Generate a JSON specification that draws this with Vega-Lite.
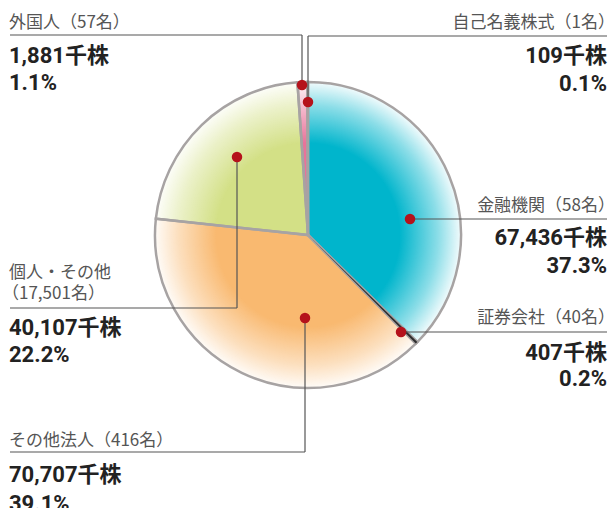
{
  "$schema": "https://vega.github.io/schema/vega-lite/v6.json",
  "width": 610,
  "height": 508,
  "autosize": {"type": "none"},
  "padding": 0,
  "background": "white",
  "config": {"view": {"stroke": null}},
  "datasets": {
    "slices": [
      {"name": "金融機関", "shares": 67436, "pct": 37.3, "holders": 58, "order": 1},
      {"name": "証券会社", "shares": 407, "pct": 0.2, "holders": 40, "order": 2},
      {"name": "その他法人", "shares": 70707, "pct": 39.1, "holders": 416, "order": 3},
      {"name": "個人・その他", "shares": 40107, "pct": 22.2, "holders": 17501, "order": 4},
      {"name": "外国人", "shares": 1881, "pct": 1.1, "holders": 57, "order": 5},
      {"name": "自己名義株式", "shares": 109, "pct": 0.1, "holders": 1, "order": 6}
    ],
    "dots": [
      {"name": "外国人", "x": 302, "y": 85},
      {"name": "自己名義株式", "x": 308, "y": 102},
      {"name": "個人・その他", "x": 237, "y": 157},
      {"name": "金融機関", "x": 410, "y": 219},
      {"name": "証券会社", "x": 401, "y": 332},
      {"name": "その他法人", "x": 305, "y": 318}
    ],
    "segments": [
      {"name": "外国人", "x": 10, "y": 35, "x2": 302, "y2": 35},
      {"name": "外国人", "x": 302, "y": 35, "x2": 302, "y2": 85},
      {"name": "自己名義株式", "x": 308, "y": 36, "x2": 607, "y2": 36},
      {"name": "自己名義株式", "x": 308, "y": 36, "x2": 308, "y2": 102},
      {"name": "金融機関", "x": 410, "y": 219, "x2": 607, "y2": 219},
      {"name": "証券会社", "x": 401, "y": 332, "x2": 607, "y2": 332},
      {"name": "個人・その他", "x": 237, "y": 157, "x2": 237, "y2": 308},
      {"name": "個人・その他", "x": 10, "y": 308, "x2": 237, "y2": 308},
      {"name": "その他法人", "x": 305, "y": 318, "x2": 305, "y2": 452},
      {"name": "その他法人", "x": 10, "y": 452, "x2": 305, "y2": 452}
    ],
    "labels": [
      {"t": "外国人（57名）", "x": 9, "y": 27.5, "side": "L", "kind": "name"},
      {"t": "自己名義株式（1名）", "x": 615, "y": 27.5, "side": "R", "kind": "name"},
      {"t": "金融機関（58名）", "x": 615, "y": 210.5, "side": "R", "kind": "name"},
      {"t": "証券会社（40名）", "x": 615, "y": 323, "side": "R", "kind": "name"},
      {"t": "個人・その他", "x": 9, "y": 278, "side": "L", "kind": "name"},
      {"t": "（17,501名）", "x": 2, "y": 298.5, "side": "L", "kind": "name"},
      {"t": "その他法人（416名）", "x": 9, "y": 446, "side": "L", "kind": "name"},
      {"t": "1,881千株", "x": 9, "y": 63, "side": "L", "kind": "value"},
      {"t": "1.1%", "x": 9, "y": 90, "side": "L", "kind": "value"},
      {"t": "109千株", "x": 607, "y": 63, "side": "R", "kind": "value"},
      {"t": "0.1%", "x": 607, "y": 91, "side": "R", "kind": "value"},
      {"t": "67,436千株", "x": 607, "y": 245, "side": "R", "kind": "value"},
      {"t": "37.3%", "x": 607, "y": 273, "side": "R", "kind": "value"},
      {"t": "407千株", "x": 607, "y": 360, "side": "R", "kind": "value"},
      {"t": "0.2%", "x": 607, "y": 386, "side": "R", "kind": "value"},
      {"t": "40,107千株", "x": 9, "y": 335, "side": "L", "kind": "value"},
      {"t": "22.2%", "x": 9, "y": 362, "side": "L", "kind": "value"},
      {"t": "70,707千株", "x": 9, "y": 482, "side": "L", "kind": "value"},
      {"t": "39.1%", "x": 9, "y": 511, "side": "L", "kind": "value"}
    ]
  },
  "layer": [
    {
      "data": {"name": "slices"},
      "mark": {"type": "arc", "radius": 153, "strokeWidth": 0},
      "encoding": {
        "x": {"datum": 308, "type": "quantitative", "scale": {"domain": [0, 610], "nice": false, "zero": false}, "axis": null},
        "y": {"datum": 235, "type": "quantitative", "scale": {"domain": [0, 508], "nice": false, "zero": false, "reverse": true}, "axis": null},
        "theta": {"field": "shares", "type": "quantitative", "stack": true},
        "order": {"field": "order", "type": "quantitative"},
        "color": {
          "field": "name", "type": "nominal", "legend": null,
          "scale": {
            "domain": ["金融機関", "証券会社", "その他法人", "個人・その他", "外国人", "自己名義株式"],
            "range": ["#00b5cc", "#333333", "#f9b970", "#d3e086", "#e9739a", "#a7a3a3"]
          }
        }
      }
    },
    {
      "data": {"values": [{"k": 1}]},
      "mark": {
        "type": "arc", "radius": 153, "theta": 0, "theta2": 6.2832, "strokeWidth": 0,
        "fill": {
          "gradient": "radial", "x1": 0.5, "y1": 0.5, "x2": 0.5, "y2": 0.5, "r1": 0, "r2": 0.5,
          "stops": [
            {"offset": 0, "color": "rgba(255,255,255,0)"},
            {"offset": 0.6, "color": "rgba(255,255,255,0)"},
            {"offset": 0.85, "color": "rgba(255,255,255,0.55)"},
            {"offset": 1, "color": "rgba(255,255,255,0.95)"}
          ]
        }
      },
      "encoding": {
        "x": {"datum": 308, "type": "quantitative", "scale": {"domain": [0, 610], "nice": false, "zero": false}, "axis": null},
        "y": {"datum": 235, "type": "quantitative", "scale": {"domain": [0, 508], "nice": false, "zero": false, "reverse": true}, "axis": null}
      }
    },
    {
      "data": {"name": "slices"},
      "mark": {"type": "arc", "radius": 153, "fillOpacity": 0, "stroke": "#a7a3a3", "strokeWidth": 2.5},
      "encoding": {
        "x": {"datum": 308, "type": "quantitative", "scale": {"domain": [0, 610], "nice": false, "zero": false}, "axis": null},
        "y": {"datum": 235, "type": "quantitative", "scale": {"domain": [0, 508], "nice": false, "zero": false, "reverse": true}, "axis": null},
        "theta": {"field": "shares", "type": "quantitative", "stack": true},
        "order": {"field": "order", "type": "quantitative"},
        "detail": {"field": "name", "type": "nominal"}
      }
    },
    {
      "data": {"name": "slices"},
      "mark": {"type": "arc", "radius": 153, "strokeWidth": 0},
      "encoding": {
        "x": {"datum": 308, "type": "quantitative", "scale": {"domain": [0, 610], "nice": false, "zero": false}, "axis": null},
        "y": {"datum": 235, "type": "quantitative", "scale": {"domain": [0, 508], "nice": false, "zero": false, "reverse": true}, "axis": null},
        "theta": {"field": "shares", "type": "quantitative", "stack": true},
        "order": {"field": "order", "type": "quantitative"},
        "detail": {"field": "name", "type": "nominal"},
        "fill": {"condition": {"test": "datum.name === '証券会社'", "value": "#2e2e2e"}, "value": "transparent"}
      }
    },
    {
      "data": {"name": "segments"},
      "mark": {"type": "rule", "color": "#555555", "strokeWidth": 1.2},
      "encoding": {
        "x": {"field": "x", "type": "quantitative", "scale": {"domain": [0, 610], "nice": false, "zero": false}, "axis": null},
        "y": {"field": "y", "type": "quantitative", "scale": {"domain": [0, 508], "nice": false, "zero": false, "reverse": true}, "axis": null},
        "x2": {"field": "x2"},
        "y2": {"field": "y2"}
      }
    },
    {
      "data": {"name": "dots"},
      "mark": {"type": "point", "shape": "circle", "filled": true, "size": 110, "color": "#b5121b", "opacity": 1},
      "encoding": {
        "x": {"field": "x", "type": "quantitative", "scale": {"domain": [0, 610], "nice": false, "zero": false}, "axis": null},
        "y": {"field": "y", "type": "quantitative", "scale": {"domain": [0, 508], "nice": false, "zero": false, "reverse": true}, "axis": null}
      }
    },
    {
      "data": {"name": "labels"},
      "transform": [{"filter": "datum.kind === 'name' && datum.side === 'L'"}],
      "mark": {"type": "text", "align": "left", "baseline": "alphabetic", "font": "Noto Sans CJK JP", "fontSize": 17, "color": "#555555"},
      "encoding": {
        "x": {"field": "x", "type": "quantitative", "scale": {"domain": [0, 610], "nice": false, "zero": false}, "axis": null},
        "y": {"field": "y", "type": "quantitative", "scale": {"domain": [0, 508], "nice": false, "zero": false, "reverse": true}, "axis": null},
        "text": {"field": "t"}
      }
    },
    {
      "data": {"name": "labels"},
      "transform": [{"filter": "datum.kind === 'name' && datum.side === 'R'"}],
      "mark": {"type": "text", "align": "right", "baseline": "alphabetic", "font": "Noto Sans CJK JP", "fontSize": 17, "color": "#555555"},
      "encoding": {
        "x": {"field": "x", "type": "quantitative", "scale": {"domain": [0, 610], "nice": false, "zero": false}, "axis": null},
        "y": {"field": "y", "type": "quantitative", "scale": {"domain": [0, 508], "nice": false, "zero": false, "reverse": true}, "axis": null},
        "text": {"field": "t"}
      }
    },
    {
      "data": {"name": "labels"},
      "transform": [{"filter": "datum.kind === 'value' && datum.side === 'L'"}],
      "mark": {"type": "text", "align": "left", "baseline": "alphabetic", "font": "Roboto, Noto Sans CJK JP", "fontSize": 22, "fontWeight": "bold", "color": "#222222"},
      "encoding": {
        "x": {"field": "x", "type": "quantitative", "scale": {"domain": [0, 610], "nice": false, "zero": false}, "axis": null},
        "y": {"field": "y", "type": "quantitative", "scale": {"domain": [0, 508], "nice": false, "zero": false, "reverse": true}, "axis": null},
        "text": {"field": "t"}
      }
    },
    {
      "data": {"name": "labels"},
      "transform": [{"filter": "datum.kind === 'value' && datum.side === 'R'"}],
      "mark": {"type": "text", "align": "right", "baseline": "alphabetic", "font": "Roboto, Noto Sans CJK JP", "fontSize": 22, "fontWeight": "bold", "color": "#222222"},
      "encoding": {
        "x": {"field": "x", "type": "quantitative", "scale": {"domain": [0, 610], "nice": false, "zero": false}, "axis": null},
        "y": {"field": "y", "type": "quantitative", "scale": {"domain": [0, 508], "nice": false, "zero": false, "reverse": true}, "axis": null},
        "text": {"field": "t"}
      }
    }
  ]
}
